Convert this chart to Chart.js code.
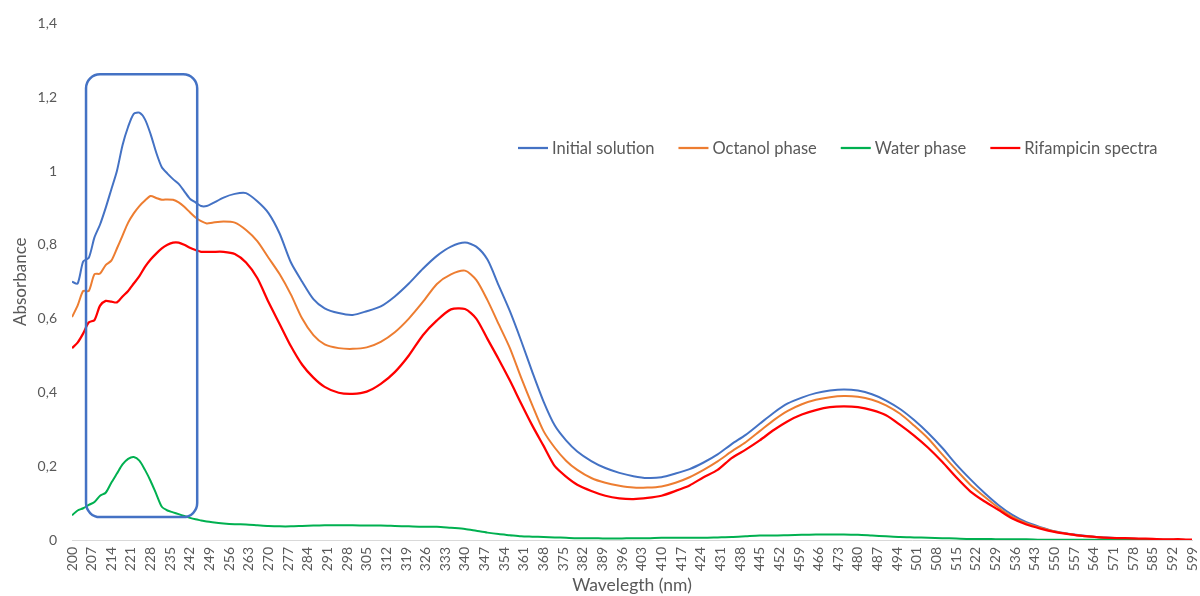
<!DOCTYPE html>
<html>
<head>
<meta charset="utf-8">
<title>Absorbance spectra</title>
<script src="https://cdn.jsdelivr.net/npm/chart.js@4.4.1/dist/chart.umd.min.js"></script>
<style>
    html, body { margin: 0; padding: 0; background: #ffffff; }
    #wrap { width: 1200px; height: 596px; position: relative; }
</style>
</head>
<body>
<div id="wrap"><canvas id="spectraChart" width="1200" height="596"></canvas></div>
<script>
// longitudes de onda muestreadas (nm)
const wavelengths = [
    200, 202, 204, 206, 208, 210, 212, 214, 216, 218, 220, 222, 224, 226, 228, 230, 232, 234, 236, 238,
    240, 242, 244, 246, 248, 250, 254, 258, 262, 266, 270, 274, 278, 282, 286, 290, 295, 300, 305, 310,
    315, 320, 325, 330, 335, 340, 344, 348, 352, 356, 360, 364, 368, 372, 376, 380, 385, 390, 395, 400,
    405, 410, 415, 420, 425, 430, 435, 440, 445, 450, 455, 460, 465, 470, 475, 480, 485, 490, 495, 500,
    505, 510, 515, 520, 525, 530, 535, 540, 545, 550, 555, 560, 565, 570, 575, 580, 585, 590, 595, 599
];

const initialSolution = [
    0.700, 0.695, 0.755, 0.765, 0.820, 0.855, 0.900, 0.950, 1.000, 1.070, 1.120, 1.155, 1.158, 1.140, 1.100, 1.050, 1.010, 0.993, 0.978, 0.965,
    0.945, 0.925, 0.915, 0.905, 0.905, 0.912, 0.928, 0.938, 0.940, 0.918, 0.886, 0.830, 0.752, 0.700, 0.653, 0.628, 0.615, 0.610, 0.620, 0.633,
    0.660, 0.695, 0.735, 0.770, 0.795, 0.806, 0.795, 0.760, 0.690, 0.620, 0.540, 0.455, 0.375, 0.310, 0.270, 0.240, 0.214, 0.195, 0.182, 0.173,
    0.168, 0.170, 0.180, 0.192, 0.210, 0.232, 0.260, 0.285, 0.315, 0.345, 0.370, 0.386, 0.398, 0.405, 0.408, 0.405, 0.395, 0.378, 0.355, 0.325,
    0.290, 0.250, 0.205, 0.165, 0.128, 0.095, 0.068, 0.048, 0.035, 0.024, 0.017, 0.012, 0.008, 0.006, 0.004, 0.003, 0.002, 0.001, 0.001, 0.000
];

const octanolPhase = [
    0.604, 0.635, 0.675, 0.675, 0.720, 0.722, 0.745, 0.757, 0.790, 0.825, 0.860, 0.885, 0.905, 0.920, 0.932, 0.927, 0.922, 0.923, 0.922, 0.915,
    0.903, 0.888, 0.874, 0.864, 0.858, 0.860, 0.863, 0.860, 0.840, 0.810, 0.765, 0.720, 0.665, 0.600, 0.555, 0.530, 0.520, 0.518, 0.522, 0.537,
    0.563, 0.600, 0.645, 0.694, 0.720, 0.730, 0.705, 0.650, 0.585, 0.520, 0.440, 0.365, 0.295, 0.250, 0.215, 0.190, 0.168, 0.155, 0.147, 0.142,
    0.142, 0.145, 0.155, 0.170, 0.190, 0.213, 0.240, 0.265, 0.295, 0.325, 0.350, 0.368, 0.380, 0.387, 0.390, 0.388, 0.380, 0.365, 0.342, 0.310,
    0.275, 0.232, 0.190, 0.150, 0.118, 0.088, 0.063, 0.045, 0.033, 0.023, 0.016, 0.011, 0.008, 0.005, 0.004, 0.003, 0.002, 0.001, 0.001, 0.000
];

const waterPhase = [
    0.067, 0.080, 0.086, 0.095, 0.103, 0.120, 0.128, 0.155, 0.180, 0.205, 0.220, 0.225, 0.215, 0.190, 0.160, 0.125, 0.090, 0.080, 0.075, 0.070,
    0.065, 0.060, 0.056, 0.053, 0.050, 0.048, 0.045, 0.043, 0.042, 0.040, 0.038, 0.037, 0.037, 0.038, 0.039, 0.040, 0.040, 0.040, 0.039, 0.039,
    0.038, 0.037, 0.036, 0.036, 0.033, 0.030, 0.025, 0.020, 0.016, 0.013, 0.010, 0.009, 0.008, 0.007, 0.006, 0.005, 0.005, 0.004, 0.004, 0.005,
    0.005, 0.006, 0.006, 0.006, 0.006, 0.007, 0.008, 0.010, 0.012, 0.012, 0.013, 0.014, 0.015, 0.015, 0.015, 0.014, 0.012, 0.010, 0.008, 0.007,
    0.006, 0.005, 0.004, 0.003, 0.003, 0.002, 0.002, 0.002, 0.001, 0.001, 0.001, 0.001, 0.001, 0.001, 0.000, 0.000, 0.000, 0.000, 0.000, 0.000
];

const rifampicinSpectra = [
    0.520, 0.535, 0.560, 0.590, 0.596, 0.635, 0.648, 0.646, 0.644, 0.660, 0.675, 0.695, 0.715, 0.740, 0.760, 0.776, 0.790, 0.800, 0.806, 0.806,
    0.800, 0.792, 0.786, 0.781, 0.781, 0.781, 0.781, 0.775, 0.752, 0.710, 0.645, 0.585, 0.525, 0.475, 0.440, 0.415, 0.399, 0.396, 0.402, 0.423,
    0.455, 0.500, 0.555, 0.595, 0.625, 0.626, 0.600, 0.545, 0.490, 0.432, 0.370, 0.310, 0.255, 0.200, 0.172, 0.150, 0.133, 0.120, 0.113, 0.111,
    0.114, 0.120, 0.133, 0.148, 0.170, 0.190, 0.222, 0.245, 0.270, 0.298, 0.322, 0.340, 0.352, 0.360, 0.362, 0.360, 0.352, 0.338, 0.312, 0.283,
    0.250, 0.212, 0.170, 0.132, 0.105, 0.082, 0.058, 0.042, 0.031, 0.022, 0.016, 0.011, 0.008, 0.006, 0.005, 0.004, 0.003, 0.002, 0.002, 0.001
];

// etiquetas del eje x, cada 7 nm
const xTickLabels = [
    200, 207, 214, 221, 228, 235, 242, 249, 256, 263, 270, 277, 284, 291, 298, 305, 312, 319, 326, 333,
    340, 347, 354, 361, 368, 375, 382, 389, 396, 403, 410, 417, 424, 431, 438, 445, 452, 459, 466, 473,
    480, 487, 494, 501, 508, 515, 522, 529, 536, 543, 550, 557, 564, 571, 578, 585, 592, 599
];

const seriesNames = ["Initial solution", "Octanol phase", "Water phase", "Rifampicin spectra"];
const seriesColors = ["#4472C4", "#ED7D31", "#00B050", "#FF0000"];

// zona resaltada (pico a ~221 nm)
const highlightBox = { fromNm: 205, toNm: 244.6, top: 1.262, bottom: 0.062 };

const FONT = "Lato, 'Open Sans', sans-serif";
const GREY = "#595959";

function toPoints(values) {
    return wavelengths.map((w, i) => ({ x: w, y: values[i] }));
}

// leyenda dibujada dentro del area del grafico
const insideLegend = {
    id: 'insideLegend',
    afterDraw(chart) {
        const ctx = chart.ctx;
        const area = chart.chartArea;
        ctx.save();
        ctx.font = "16.5px " + FONT;
        ctx.textBaseline = 'middle';
        let x = area.left + 446;
        const y = 148;
        chart.data.datasets.forEach(ds => {
            ctx.strokeStyle = ds.borderColor;
            ctx.lineWidth = 2.25;
            ctx.beginPath();
            ctx.moveTo(x, y);
            ctx.lineTo(x + 30, y);
            ctx.stroke();
            ctx.fillStyle = GREY;
            ctx.fillText(ds.label, x + 34, y + 1);
            x += 34 + ctx.measureText(ds.label).width + 24;
        });
        ctx.restore();
    }
};

// recuadro redondeado sobre la zona 205-245 nm
const roundedBox = {
    id: 'roundedBox',
    afterDraw(chart) {
        const ctx = chart.ctx;
        const xs = chart.scales.x, ys = chart.scales.y;
        const l = xs.getPixelForValue(highlightBox.fromNm);
        const r = xs.getPixelForValue(highlightBox.toNm);
        const t = ys.getPixelForValue(highlightBox.top);
        const b = ys.getPixelForValue(highlightBox.bottom);
        ctx.save();
        ctx.strokeStyle = "#4472C4";
        ctx.lineWidth = 2.5;
        ctx.beginPath();
        ctx.roundRect(l, t, r - l, b - t, 14);
        ctx.stroke();
        ctx.restore();
    }
};

const datasets = [initialSolution, octanolPhase, waterPhase, rifampicinSpectra].map((vals, i) => ({
    label: seriesNames[i],
    data: toPoints(vals),
    borderColor: seriesColors[i],
    backgroundColor: seriesColors[i],
    borderWidth: i === 3 ? 2.25 : 2,
    pointRadius: 0,
    tension: 0.25,
    fill: false,
    order: 4 - i
}));

const spectraChart = new Chart(document.getElementById('spectraChart'), {
    type: 'line',
    data: { datasets: datasets },
    options: {
        responsive: false,
        animation: false,
        layout: { padding: { top: 22, right: 8, left: 0, bottom: 0 } },
        plugins: {
            legend: { display: false },
            tooltip: { enabled: false }
        },
        scales: {
            x: {
                type: 'linear',
                min: 200,
                max: 599,
                afterBuildTicks: scale => { scale.ticks = xTickLabels.map(v => ({ value: v })); },
                afterFit: scale => {
                    scale.height = 56;
                    scale.paddingLeft = 0;
                    scale.paddingRight = 0;
                },
                grid: { display: false, drawTicks: false },
                border: { display: true, color: "#d9d9d9", width: 1 },
                ticks: {
                    autoSkip: false,
                    maxRotation: 90,
                    minRotation: 90,
                    padding: 7,
                    color: GREY,
                    font: { family: FONT, size: 14 },
                    callback: v => String(v)
                },
                title: {
                    display: true,
                    text: 'Wavelegth (nm)',
                    color: GREY,
                    font: { family: FONT, size: 17.5 },
                    padding: { top: 0, bottom: 0 }
                }
            },
            y: {
                min: 0,
                max: 1.4,
                afterFit: scale => { scale.width = 72; },
                grid: { display: false, drawTicks: false },
                border: { display: false },
                ticks: {
                    stepSize: 0.2,
                    padding: 15,
                    color: GREY,
                    font: { family: FONT, size: 14 },
                    callback: v => Number(v.toFixed(1)).toString().replace('.', ',')
                },
                title: {
                    display: true,
                    text: 'Absorbance',
                    color: GREY,
                    font: { family: FONT, size: 17 },
                    padding: { top: 10, bottom: 0 }
                }
            }
        }
    },
    plugins: [insideLegend, roundedBox]
});
</script>
</body>
</html>
